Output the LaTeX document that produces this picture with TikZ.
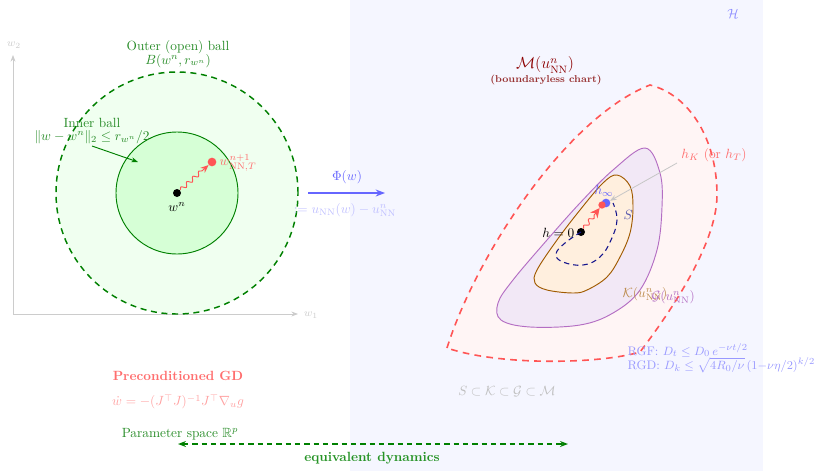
\documentclass[tikz,border=0pt]{standalone}
\usepackage{amsmath,amssymb}
\usetikzlibrary{arrows.meta,decorations.pathmorphing}
\definecolor{gdark}{RGB}{0,128,0}
\definecolor{glab}{RGB}{40,140,40}
\definecolor{mred}{RGB}{255,85,85}
\definecolor{purp}{RGB}{180,110,195}
\definecolor{purpfill}{RGB}{242,232,246}
\definecolor{kbrown}{RGB}{160,90,0}
\definecolor{kfill}{RGB}{255,239,222}
\definecolor{bgblue}{RGB}{245,246,255}
\definecolor{navy}{RGB}{20,20,140}
\begin{document}
\begin{tikzpicture}[x=0.75pt,y=-0.75pt,
  dot/.style={circle,inner sep=0pt,minimum size=#1},
  axisline/.style={gray!40,line width=0.6pt},
  snk/.style={decorate,decoration={snake,amplitude=1.5pt,segment length=6pt,post length=4pt}},
  lbl/.style={inner sep=1pt}]
\useasboundingbox (0,0) rectangle (817,471);
% background of chart side
\fill[bgblue] (350,0) rectangle (763,471);
\node[lbl,text=blue!45] (H) at (733,14) {$\mathcal{H}$};

% ---------- left: parameter space ----------
\coordinate (O) at (13,314);
\coordinate (X) at (298,314);
\coordinate (Y) at (13,55);
\draw[axisline,-{Stealth[length=5pt]}] (O) -- (X);
\draw[axisline,-{Stealth[length=5pt]}] (O) -- (Y);
\node[lbl,text=gray!40,font=\footnotesize] (w1) at (311,315) {$w_1$};
\node[lbl,text=gray!40,font=\footnotesize] (w2) at (14,45) {$w_2$};

\node[circle,draw=gdark,line width=1.1pt,dash pattern=on 4.5pt off 3.5pt,fill=green!6,minimum size=181.5pt,inner sep=0pt] (outer) at (177,193) {};
\node[circle,draw=gdark,line width=0.7pt,fill=green!16,minimum size=91.5pt,inner sep=0pt] (inner) at (177,193) {};

\node[lbl,text=glab,align=center] (outerlbl) at (178,54) {Outer (open) ball\\[-2pt] $B(w^n,r_{w^n})$};
\node[lbl,text=glab,align=center] (innerlbl) at (92,131) {Inner ball\\[-2pt] $\|w-w^n\|_2\le r_{w^n}/2$};
\coordinate (ia) at (92,146);
\coordinate (ib) at (138,162);
\draw[gdark,line width=0.7pt,-{Stealth[length=5pt]}] (ia) -- (ib);

\node[dot=6pt,fill=black] (wn) at (177,193) {};
\node[lbl] (wnlbl) at (177,207) {$w^n$};
\node[dot=6.5pt,fill=mred] (wt) at (212,162) {};
\node[lbl,text=mred!85,anchor=west] (wtlbl) at (218,163) {$w^{n+1}_{\mathrm{NN},T}$};
\draw[mred,line width=0.7pt,snk,-{Stealth[length=6pt,width=5pt]}] (wn) -- (wt);

% Phi arrow
\coordinate (pa) at (308,193);
\coordinate (pb) at (385,193);
\draw[blue!60,line width=1.1pt,-{Stealth[length=7pt]}] (pa) -- (pb);
\node[lbl,text=blue!60] (phil) at (347,177) {$\Phi(w)$};
\node[lbl,text=blue!25] (phid) at (345,210) {$:= u_{\mathrm{NN}}(w)-u^n_{\mathrm{NN}}$};

% ---------- right: chart ----------
\node[lbl,text=red!55!black,font=\large] (Mlbl) at (545,65) {$\mathcal{M}(u^n_{\mathrm{NN}})$};
\node[lbl,text=red!50!black!80,font=\fontsize{7.5pt}{9pt}\selectfont\bfseries] (Msub) at (546,80) {(boundaryless chart)};

\draw[mred,line width=1.2pt,fill=red!4,dash pattern=on 5pt off 4pt]
  (447,348) .. controls (475,258) and (565,118) .. (650,85)
  .. controls (690,95) and (717,140) .. (717,195)
  .. controls (717,245) and (668,315) .. (640,352)
  .. controls (600,364) and (500,366) .. (447,348) -- cycle;

\draw[purp,line width=0.7pt,fill=purpfill] plot[smooth cycle,tension=0.6] coordinates
  {(645,148) (660,173) (662,207) (657,250) (640,290) (613,313) (580,325) (530,327) (501,320) (498,303) (513,280) (547,240) (580,203) (613,170)};

\draw[kbrown,line width=0.7pt,fill=kfill] plot[smooth cycle,tension=0.6] coordinates
  {(617,175) (630,186) (633,207) (630,233) (620,257) (607,277) (587,290) (573,293) (547,290) (535,283) (537,270) (557,240) (580,210) (603,183)};

\node[dot=6pt,fill=black] (h0) at (581,232) {};
\node[dot=6.5pt,fill=blue!60] (hinf) at (606,203) {};
\node[dot=5.5pt,fill=mred] (hT) at (602,205) {};

\draw[navy,line width=0.8pt,dash pattern=on 4pt off 3pt] plot[smooth,tension=0.7] coordinates
  {(581,232) (565,243) (556,254) (563,262) (583,265) (600,257) (611,240) (617,220) (613,203)};
\node[lbl,text=navy!70] (Sl) at (628,215) {$S$};

\draw[mred,line width=0.7pt,snk,-{Stealth[length=7pt,width=7pt]}] (h0) -- (hT);

\node[lbl,anchor=east] (h0l) at (576,233) {$h=0$};
\node[lbl,text=blue!60] (hinfl) at (604,191) {$h_\infty$};

\node[lbl,text=mred!85] (hKl) at (714,155) {$h_K$ (or $h_T$)};
\coordinate (ga) at (677,163);
\draw[gray!45,line width=0.6pt,-{Stealth[length=5pt]}] (ga) -- (hinf);

\node[lbl,text=kbrown!70,anchor=west] (Kl) at (621,294) {$\mathcal{K}(u^n_{\mathrm{NN}})$};
\node[lbl,text=purp,anchor=west] (Gl) at (650,297) {$\mathcal{G}(u^n_{\mathrm{NN}})$};

\node[lbl,text=blue!40,anchor=west,font=\fontsize{9.3pt}{11pt}\selectfont] (rgf) at (626,350) {RGF: $D_t\le D_0\,e^{-\nu t/2}$};
\node[lbl,text=blue!40,anchor=west,font=\fontsize{9.3pt}{11pt}\selectfont] (rgd) at (626,365) {RGD: $D_k\le\sqrt{4R_0/\nu}\,(1{-}\nu\eta/2)^{k/2}$};

\node[lbl,text=gray!50] (incl) at (507,392) {$S\subset\mathcal{K}\subset\mathcal{G}\subset\mathcal{M}$};

% ---------- bottom ----------
\node[lbl,text=mred!85,font=\bfseries] (pgd) at (178,376) {Preconditioned GD};
\node[lbl,text=mred!55] (pgdf) at (178,402) {$\dot w=-(J^\top J)^{-1}J^\top\nabla_u g$};
\node[lbl,text=glab] (ps) at (180,434) {Parameter space $\mathbb{R}^p$};
\coordinate (da) at (178,444);
\coordinate (db) at (568,444);
\draw[gdark,line width=1.1pt,dash pattern=on 4pt off 3pt,{Stealth[length=6pt]}-{Stealth[length=6pt]}] (da) -- (db);
\node[lbl,text=gdark!85,font=\bfseries] (eq) at (372,458) {equivalent dynamics};
\end{tikzpicture}
\end{document}
